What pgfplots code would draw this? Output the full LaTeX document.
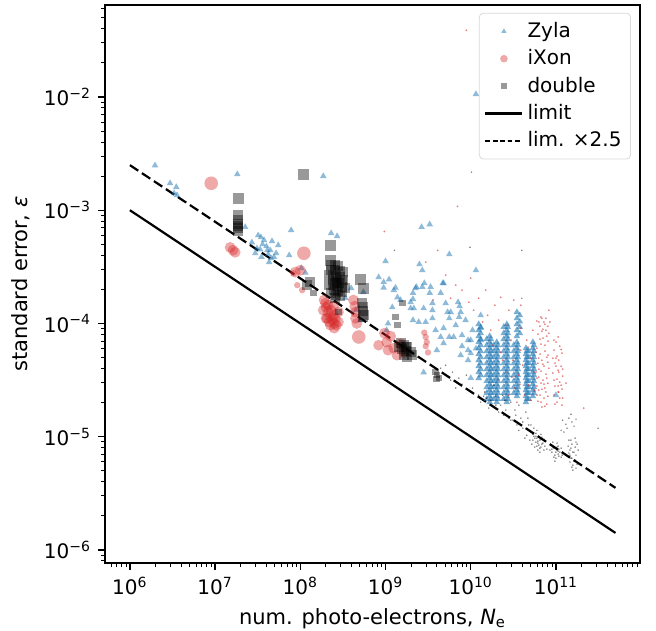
\documentclass[border=0pt]{standalone}
\usepackage{fontspec}
\setmainfont{DejaVu Sans}
\usepackage{pgfplots}
\pgfplotsset{compat=1.18}
\definecolor{zyla}{RGB}{31,119,180}
\definecolor{ixon}{RGB}{214,39,40}
\pgfplotsset{
  zyl/.style={only marks, mark=triangle*, mark size=1.9pt, mark options={draw=zyla, draw opacity=0, fill=zyla, fill opacity=#1}, forget plot},
  zyl/.default=0.5,
  ixo/.style={only marks, mark=*, mark size=#1, mark options={draw=ixon, draw opacity=0, fill=ixon, fill opacity=0.4}, forget plot},
  dbl/.style={only marks, mark=square*, mark size=#1, mark options={draw=black, draw opacity=0, fill=black, fill opacity=0.4}, forget plot},
  rdot/.style={only marks, mark=*, mark size=0.5pt, mark options={draw=ixon, draw opacity=0, fill=ixon, fill opacity=0.6}, forget plot},
  kdot/.style={only marks, mark=*, mark size=0.42pt, mark options={draw=black, draw opacity=0, fill=black, fill opacity=0.55}, forget plot},
}
\begin{document}
\begin{tikzpicture}
\begin{axis}[
  name=ax,
  scale only axis, width=267.5pt, height=279pt,
  xmode=log, ymode=log,
  xmin=5.1e5, xmax=9.7e11, ymin=7.67e-7, ymax=6.49e-2,
  axis line style={line width=0.9pt},
  tick pos=left, tick align=outside,
  major tick length=3.5pt, minor tick length=2pt,
  every tick/.style={black, line width=0.7pt},
  every minor tick/.style={black, line width=0.5pt},
  xtick={1e6,1e7,1e8,1e9,1e10,1e11},
  xticklabels={10\textsuperscript{6},10\textsuperscript{7},10\textsuperscript{8},10\textsuperscript{9},10\textsuperscript{10},10\textsuperscript{11}},
  minor xtick={6e5,7e5,8e5,9e5,2e6,3e6,4e6,5e6,6e6,7e6,8e6,9e6,2e7,3e7,4e7,5e7,6e7,7e7,8e7,9e7,2e8,3e8,4e8,5e8,6e8,7e8,8e8,9e8,2e9,3e9,4e9,5e9,6e9,7e9,8e9,9e9,2e10,3e10,4e10,5e10,6e10,7e10,8e10,9e10,2e11,3e11,4e11,5e11,6e11,7e11,8e11,9e11},
  ytick={1e-6,1e-5,1e-4,1e-3,1e-2},
  yticklabels={10\textsuperscript{−6},10\textsuperscript{−5},10\textsuperscript{−4},10\textsuperscript{−3},10\textsuperscript{−2}},
  minor ytick={8e-7,9e-7,2e-6,3e-6,4e-6,5e-6,6e-6,7e-6,8e-6,9e-6,2e-5,3e-5,4e-5,5e-5,6e-5,7e-5,8e-5,9e-5,2e-4,3e-4,4e-4,5e-4,6e-4,7e-4,8e-4,9e-4,2e-3,3e-3,4e-3,5e-3,6e-3,7e-3,8e-3,9e-3,2e-2,3e-2,4e-2,5e-2,6e-2},
  ticklabel style={font=\fontsize{10}{12}\selectfont},
  xlabel={num. photo-electrons, \textit{N}\textsubscript{e}},
  ylabel={standard error, \textit{ε}},
  label style={font=\fontsize{10.5}{12}\selectfont},
  legend style={at={(0.983,0.986)}, anchor=north east, draw=black!15, rounded corners=2pt, fill=white, fill opacity=0.8, text opacity=1, font=\fontsize{10}{12}\selectfont, inner sep=2.5pt, row sep=0.6pt},
  legend cell align=left,
  legend image code/.code={\draw[mark repeat=2, mark phase=2, #1] plot coordinates {(0cm,0cm) (0.325cm,0cm) (0.65cm,0cm)};},
]
% ---------------- Zyla ----------------
\addplot[zyl] coordinates {
(1.97e6,2.49e-3) (2.96e6,1.73e-3) (3.5e6,1.6e-3) (3.3e6,1.41e-3) (3.57e6,1.36e-3) (1.82e7,2.08e-3) (1.86e8,2.0e-3) (7.8e7,6.66e-4) (2.3e8,6.27e-4) (2.7e8,5.9e-4) (1.15e10,1.06e-2) (1.15e10,2.95e-4)
(2.25e7,7.1e-4) (2.7e7,5.2e-4) (3.45e7,5.77e-4) (3.6e7,5.0e-4) (4.44e7,4.43e-4) (4.65e7,5.33e-4) (4.1e7,4.43e-4) (4.9e7,3.87e-4) (3.5e7,3.87e-4) (3.1e7,4.6e-4) (2.96e7,4.17e-4) (4.0e7,4.8e-4) (4.2e7,4.08e-4) (4.55e7,3.76e-4) (5.2e7,4.17e-4) (3.38e7,4.5e-4) (7.4e7,4.0e-4) (5.5e7,4.91e-4) (3.75e7,5.44e-4) (4.3e7,3.48e-4) (3.2e7,6.0e-4)
(1.15e8,2.8e-4) (1.03e8,3.08e-4) (3.38e8,1.68e-4) (3.95e8,2.05e-4) (5.5e8,1.89e-4) (8.3e8,2.56e-4) (5.08e8,1.07e-4) (4.5e8,1.31e-4) (1.07e9,1.0e-4) (1.03e9,8.73e-5) (1.0e9,3.55e-4) (9.5e8,2.32e-4) (9.5e8,2.07e-4) (1.1e9,2.45e-4) (1.31e9,2.07e-4) (1.25e9,1.97e-4) (1.2e9,1.39e-4) (1.38e9,1.7e-4)
(2.65e9,7.1e-4) (3.3e9,7.5e-4) (5.6e9,4.08e-4) (2.5e9,3.33e-4) (2.7e9,2.95e-4) (2.3e9,2.1e-4) (2.85e9,2.27e-4) (3.38e9,2.1e-4) (4.8e9,2.27e-4) (2.1e9,1.86e-4) (4.44e9,1.86e-4) (5.08e9,1.51e-4) (7.4e9,1.42e-4) (2.25e9,2.05e-4) (3.3e9,1.86e-4) (2.1e9,1.64e-4) (1.97e9,1.36e-4) (2.15e9,1.36e-4) (2.8e9,1.36e-4) (3.55e9,1.51e-4) (3.55e9,1.31e-4) (3.55e9,1.11e-4) (4.7e9,2.27e-4) (5.82e9,1.26e-4) (5.6e9,1.11e-4) (7.62e9,1.26e-4) (7.3e9,1.14e-4) (2.1e9,1.07e-4) (2.45e9,1.03e-4) (2.96e9,1.03e-4) (3.87e9,8.73e-5) (4.8e9,9.1e-5) (4.44e9,7.6e-5) (5.6e9,7.6e-5) (4.8e9,6.7e-5) (6.3e9,7.6e-5) (7.9e9,7.88e-5) (1.05e10,8.73e-5) (1.31e10,1.18e-4) (1.31e10,9.1e-5) (7.9e9,6.3e-5) (1.0e10,7.13e-5) (7.62e9,5.25e-5) (2.8e9,3.7e-5) (1.0e10,5.45e-5) (1.15e10,6.0e-5) (1.31e10,7.13e-5) (1.97e9,1.54e-4) (2.7e9,2.1e-4) (5.35e9,1.26e-4) (7.1e9,1.54e-4) (9.3e9,7.13e-5) (9.3e9,5.81e-5) (9.3e9,4.74e-5) (1.5e9,1.61e-4) (4.0e9,5.81e-5) (6.67e9,9.66e-5) (8.7e9,1.07e-4) (1.0e10,3.3e-5) (1.0e11,2.33e-5)
};
\addplot[zyl=0.6] coordinates {
(1.24e10,9.86e-5) (1.24e10,8.73e-5) (1.24e10,7.73e-5) (1.24e10,6.84e-5) (1.24e10,6.05e-5) (1.24e10,5.36e-5) (1.24e10,4.74e-5) (1.24e10,4.2e-5) (1.24e10,3.72e-5) (1.24e10,3.29e-5)
(1.67e10,7.73e-5) (1.67e10,6.84e-5) (1.67e10,6.05e-5) (1.67e10,5.36e-5) (1.67e10,4.74e-5) (1.67e10,4.2e-5) (1.67e10,3.72e-5) (1.67e10,3.29e-5) (1.67e10,2.91e-5) (1.67e10,2.58e-5) (1.67e10,2.28e-5) (1.67e10,2.02e-5)
(1.54e10,7.27e-5) (1.54e10,6.43e-5) (1.54e10,5.7e-5) (1.54e10,5.04e-5) (1.54e10,4.46e-5) (1.54e10,3.95e-5) (1.54e10,3.5e-5) (1.54e10,3.1e-5) (1.54e10,2.74e-5) (1.54e10,2.43e-5) (1.54e10,2.15e-5)
(2.02e10,6.84e-5) (2.02e10,6.05e-5) (2.02e10,5.36e-5) (2.02e10,4.74e-5) (2.02e10,4.2e-5) (2.02e10,3.72e-5) (2.02e10,3.29e-5) (2.02e10,2.91e-5) (2.02e10,2.58e-5) (2.02e10,2.28e-5) (2.02e10,2.02e-5)
(1.87e10,6.43e-5) (1.87e10,5.7e-5) (1.87e10,5.04e-5) (1.87e10,4.46e-5) (1.87e10,3.95e-5) (1.87e10,3.5e-5) (1.87e10,3.1e-5) (1.87e10,2.74e-5) (1.87e10,2.43e-5) (1.87e10,2.15e-5)
(2.65e10,9.86e-5) (2.65e10,8.73e-5) (2.65e10,7.73e-5) (2.65e10,6.84e-5) (2.65e10,6.05e-5) (2.65e10,5.36e-5) (2.65e10,4.74e-5) (2.65e10,4.2e-5) (2.65e10,3.72e-5) (2.65e10,3.29e-5) (2.65e10,2.91e-5) (2.65e10,2.58e-5) (2.65e10,2.28e-5) (2.65e10,2.02e-5)
(2.44e10,9.3e-5) (2.44e10,8.2e-5) (2.44e10,7.27e-5) (2.44e10,6.43e-5) (2.44e10,5.7e-5) (2.44e10,5.04e-5) (2.44e10,4.46e-5) (2.44e10,3.95e-5) (2.44e10,3.5e-5) (2.44e10,3.1e-5) (2.44e10,2.74e-5) (2.44e10,2.43e-5) (2.44e10,2.15e-5)
(3.48e10,1.26e-4) (3.48e10,1.11e-4) (3.48e10,9.86e-5) (3.48e10,8.73e-5) (3.48e10,7.73e-5) (3.77e10,1.18e-4) (3.77e10,1.04e-4) (3.77e10,9.3e-5) (3.77e10,8.2e-5)
(3.48e10,6.84e-5) (3.48e10,6.05e-5) (3.48e10,5.36e-5) (3.48e10,4.74e-5) (3.48e10,4.2e-5) (3.48e10,3.72e-5) (3.48e10,3.29e-5) (3.48e10,2.91e-5) (3.48e10,2.58e-5) (3.48e10,2.28e-5)
(3.2e10,6.43e-5) (3.2e10,5.7e-5) (3.2e10,5.04e-5) (3.2e10,4.46e-5) (3.2e10,3.95e-5) (3.2e10,3.5e-5) (3.2e10,3.1e-5) (3.2e10,2.74e-5) (3.2e10,2.43e-5)
(4.44e10,6.05e-5) (4.44e10,5.36e-5) (4.44e10,4.74e-5) (4.44e10,4.2e-5) (4.44e10,3.72e-5) (4.44e10,3.29e-5) (4.44e10,2.91e-5) (4.44e10,2.58e-5) (4.44e10,2.28e-5) (4.44e10,2.02e-5)
(4.8e10,5.7e-5) (4.8e10,5.04e-5) (4.8e10,4.46e-5) (4.8e10,3.95e-5) (4.8e10,3.5e-5) (4.8e10,3.1e-5) (4.8e10,2.74e-5) (4.8e10,2.43e-5) (4.8e10,2.15e-5)
(5.36e10,6.84e-5) (5.36e10,6.05e-5) (5.36e10,5.36e-5) (5.36e10,4.74e-5) (5.36e10,4.2e-5) (5.36e10,3.72e-5) (5.36e10,3.29e-5) (5.36e10,2.91e-5) (5.36e10,2.58e-5) (5.36e10,2.28e-5)
};
\addplot[zyl=0.6] coordinates {
(1.31e10,9.3e-5) (1.31e10,8.2e-5) (1.31e10,7.27e-5) (1.31e10,6.43e-5) (1.31e10,5.7e-5) (1.31e10,5.04e-5) (1.31e10,4.46e-5) (1.31e10,3.95e-5) (1.31e10,3.5e-5)
(1.72e10,7.27e-5) (1.72e10,6.43e-5) (1.72e10,5.7e-5) (1.72e10,5.04e-5) (1.72e10,4.46e-5) (1.72e10,3.95e-5) (1.72e10,3.5e-5) (1.72e10,3.1e-5) (1.72e10,2.74e-5) (1.72e10,2.43e-5) (1.72e10,2.15e-5)
(2.08e10,6.43e-5) (2.08e10,5.7e-5) (2.08e10,5.04e-5) (2.08e10,4.46e-5) (2.08e10,3.95e-5) (2.08e10,3.5e-5) (2.08e10,3.1e-5) (2.08e10,2.74e-5) (2.08e10,2.43e-5) (2.08e10,2.15e-5)
(2.72e10,9.3e-5) (2.72e10,8.2e-5) (2.72e10,7.27e-5) (2.72e10,6.43e-5) (2.72e10,5.7e-5) (2.72e10,5.04e-5) (2.72e10,4.46e-5) (2.72e10,3.95e-5) (2.72e10,3.5e-5) (2.72e10,3.1e-5) (2.72e10,2.74e-5) (2.72e10,2.43e-5) (2.72e10,2.15e-5)
(3.57e10,6.43e-5) (3.57e10,5.7e-5) (3.57e10,5.04e-5) (3.57e10,4.46e-5) (3.57e10,3.95e-5) (3.57e10,3.5e-5) (3.57e10,3.1e-5) (3.57e10,2.74e-5) (3.57e10,2.43e-5)
(4.55e10,5.7e-5) (4.55e10,5.04e-5) (4.55e10,4.46e-5) (4.55e10,3.95e-5) (4.55e10,3.5e-5) (4.55e10,3.1e-5) (4.55e10,2.74e-5) (4.55e10,2.43e-5) (4.55e10,2.15e-5)
(5.51e10,6.43e-5) (5.51e10,5.7e-5) (5.51e10,5.04e-5) (5.51e10,4.46e-5) (5.51e10,3.95e-5) (5.51e10,3.5e-5) (5.51e10,3.1e-5) (5.51e10,2.74e-5) (5.51e10,2.43e-5)
};
% ---------------- iXon ----------------
\addplot[ixo=3.4pt] coordinates {(9.0e6,1.73e-3) (1.1e8,4.17e-4) (4.85e8,7.6e-5)};
\addplot[ixo=2.7pt] coordinates {
(1.5e7,4.7e-4) (1.62e7,4.43e-4) (1.72e7,4.25e-4) (1.0e8,2.95e-4) (8.7e7,2.84e-4)
(2.0e8,1.39e-4) (2.12e8,1.26e-4) (2.25e8,1.16e-4) (2.38e8,1.07e-4) (2.5e8,1.0e-4) (2.65e8,9.66e-5) (2.06e8,1.11e-4) (2.18e8,1.03e-4) (2.3e8,1.31e-4) (2.45e8,1.18e-4) (2.58e8,1.11e-4) (1.97e8,1.51e-4) (2.12e8,1.45e-4)
(1.86e8,1.31e-4) (2.0e8,1.11e-4) (2.25e8,9.66e-5) (2.5e8,9.09e-5) (2.8e8,1.03e-4) (2.45e8,1.42e-4) (2.8e8,1.26e-4) (1.9e8,1.61e-4)
(4.2e8,1.61e-4) (4.35e8,1.42e-4) (4.44e8,1.26e-4) (4.44e8,1.11e-4) (4.6e8,1.0e-4)
(9.7e8,8.2e-5) (1.03e9,6.84e-5) (1.07e9,5.81e-5) (1.25e9,6.05e-5) (1.5e9,6.6e-5) (1.36e9,5.25e-5) (1.15e9,7.73e-5) (1.64e9,5.55e-5) (8.3e8,6.43e-5)
};
\addplot[ixo=1.6pt] coordinates {
(9.2e7,2.18e-4) (1.05e8,1.97e-4) (8.3e7,2.78e-4)
(2.96e9,7.6e-5) (3.05e9,6.84e-5) (2.96e9,6.3e-5) (3.15e9,5.55e-5) (2.85e9,8.3e-5)
};
\addplot[rdot] coordinates {
(6.84e10,1.11e-4) (7.23e10,1.03e-4) (6.49e10,9.46e-5) (7.62e10,8.73e-5) (6.14e10,8.05e-5) (7.03e10,7.42e-5) (8.05e10,6.98e-5) (6.67e10,6.57e-5) (5.98e10,6.05e-5) (7.42e10,5.7e-5) (6.49e10,5.36e-5) (7.82e10,5.04e-5) (6.84e10,4.74e-5) (6.14e10,4.46e-5) (7.23e10,4.2e-5) (8.27e10,4.03e-5) (6.67e10,3.79e-5) (7.62e10,3.57e-5) (6.3e10,3.36e-5) (7.03e10,3.16e-5) (8.05e10,2.97e-5) (5.98e10,2.8e-5) (6.84e10,2.63e-5) (7.62e10,2.48e-5) (6.49e10,2.33e-5) (7.23e10,2.19e-5) (6.14e10,2.06e-5) (7.82e10,1.94e-5) (6.84e10,1.83e-5) (7.42e10,6.43e-5) (6.3e10,4.94e-5) (8.05e10,4.55e-5) (5.82e10,3.72e-5) (6.67e10,2.97e-5) (7.42e10,2.69e-5) (5.98e10,2.33e-5) (7.03e10,8.9e-5) (7.82e10,7.73e-5) (6.67e10,1.14e-4) (6.3e10,1.03e-4)
(5.98e10,1.05e-4) (7.42e10,9.86e-5) (8.27e10,8.2e-5) (6.49e10,7.27e-5) (5.82e10,5.58e-5) (8.05e10,5.25e-5) (7.03e10,4.37e-5) (6.3e10,3.95e-5) (7.82e10,3.29e-5) (7.23e10,2.91e-5) (6.3e10,2.58e-5) (8.05e10,2.28e-5) (6.67e10,2.02e-5) (7.42e10,1.86e-5) (5.98e10,3.29e-5) (7.62e10,1.11e-4) (8.5e10,1.03e-4) (8.05e10,9.46e-5) (6.84e10,8.55e-5)
(1.06e11,7.58e-5) (1.0e11,6.84e-5) (1.11e11,6.31e-5) (9.47e10,5.81e-5) (1.18e11,5.47e-5) (1.03e11,5.15e-5) (1.08e11,4.74e-5) (9.73e10,4.46e-5) (1.15e11,4.2e-5) (1.06e11,3.87e-5) (9.2e10,3.65e-5) (1.2e11,3.43e-5) (1.03e11,3.23e-5) (1.11e11,3.03e-5) (9.73e10,2.8e-5) (1.18e11,2.63e-5) (1.06e11,2.48e-5) (9.47e10,2.33e-5) (1.11e11,2.19e-5) (1.03e11,2.02e-5) (1.18e11,1.9e-5) (1.0e11,4.94e-5) (1.08e11,3.72e-5) (1.15e11,2.85e-5)
(9.47e10,7.13e-5) (1.15e11,5.9e-5) (1.0e11,4.2e-5) (1.2e11,3.95e-5) (9.47e10,3.16e-5) (1.08e11,2.48e-5) (1.2e11,2.19e-5) (9.73e10,1.94e-5) (1.06e11,2.8e-5) (9.2e10,4.94e-5)
(1.82e10,6.43e-5) (2.25e10,5.58e-5) (2.96e10,7.13e-5) (3.12e10,4.74e-5) (3.87e10,5.81e-5) (4.08e10,4.28e-5) (3.67e10,3.5e-5) (4.55e10,7.13e-5) (5.08e10,4.94e-5) (5.51e10,3.72e-5) (4.8e10,2.85e-5) (3.3e10,2.69e-5) (2.58e10,3.72e-5) (2.08e10,3.16e-5) (4.32e10,2.33e-5) (5.36e10,8.73e-5) (3.87e10,9.09e-5) (2.8e10,2.33e-5) (3.48e10,2.02e-5) (5.08e10,2.1e-5) (2.37e10,4.74e-5) (4.69e10,6.18e-5) (3.77e10,2.91e-5) (3.04e10,3.36e-5) (5.65e10,2.58e-5)
(8.9e9,3.88e-2) (7.0e9,1.08e-3) (9.7e8,6.5e-4) (2.96e9,3.48e-4) (4.1e9,4.43e-4) (6.67e9,2.18e-4) (7.9e9,1.97e-4) (1.0e10,2.51e-4) (1.24e10,1.67e-4) (1.5e10,1.97e-4) (1.92e10,1.45e-4) (2.25e10,1.7e-4) (2.8e10,1.31e-4) (3.2e10,1.61e-4) (1.58e10,1.18e-4) (1.08e10,1.31e-4) (2.13e10,1.07e-4) (9.5e9,1.54e-4) (5.82e9,1.67e-4) (3.87e10,1.45e-4) (2.58e10,9.66e-5) (1.38e10,1.03e-4) (5.08e9,2.67e-4) (1.31e11,2.97e-5) (2.12e11,1.79e-5) (8.27e10,1.31e-4) (3.62e9,1.61e-4) (1.72e10,8.73e-5)
};
% ---------------- double ----------------
\addplot[dbl=2.75pt] coordinates {(1.1e8,2.08e-3) (1.87e7,1.28e-3) (2.25e8,4.91e-4) (2.25e8,3.62e-4) (5.08e8,2.45e-4) (5.5e8,2.05e-4)};
\addplot[dbl=2.5pt] coordinates {
(1.87e7,9.0e-4) (1.87e7,8.16e-4) (1.87e7,7.5e-4) (1.87e7,7.2e-4) (1.87e7,6.95e-4) (1.87e7,6.5e-4)
(2.3e8,3.27e-4) (2.58e8,3.27e-4) (2.3e8,2.95e-4) (2.58e8,2.95e-4) (2.9e8,2.9e-4) (2.4e8,2.67e-4) (2.65e8,2.62e-4) (2.96e8,2.56e-4) (2.45e8,2.41e-4) (2.7e8,2.37e-4) (3.05e8,2.32e-4) (2.45e8,2.18e-4) (2.7e8,2.14e-4) (3.05e8,2.1e-4) (2.5e8,1.97e-4) (2.8e8,1.93e-4) (3.1e8,1.89e-4) (2.65e8,1.78e-4) (2.96e8,1.74e-4)
(2.18e8,2.67e-4) (2.18e8,2.18e-4) (3.2e8,2.41e-4) (3.3e8,2.05e-4) (3.2e8,2.84e-4) (2.8e8,3.2e-4) (2.3e8,1.85e-4) (2.58e8,1.68e-4) (2.85e8,2.27e-4) (2.58e8,2.27e-4)
(5.3e8,1.51e-4) (5.5e8,1.39e-4) (5.4e8,1.28e-4) (5.65e8,1.2e-4) (5.4e8,1.14e-4) (1.31e8,2.32e-4) (1.2e8,2.18e-4)
(1.5e9,6.7e-5) (1.64e9,6.43e-5) (1.8e9,6.2e-5) (1.58e9,5.9e-5) (1.73e9,5.7e-5) (1.97e9,5.55e-5) (1.64e9,5.25e-5) (1.8e9,5.04e-5) (2.05e9,5.25e-5) (1.45e9,6.2e-5) (1.73e9,6.2e-5)
};
\addplot[dbl=1.6pt] coordinates {
(1.43e8,1.85e-4) (2.8e8,1.26e-4) (1.58e9,1.51e-4) (1.31e9,1.14e-4) (1.38e9,9.66e-5) (3.87e9,3.72e-5) (4.05e9,3.5e-5) (4.25e9,3.29e-5) (3.95e9,3.23e-5)
};
\addplot[kdot] coordinates {
(5.08e10,1.1e-5) (5.51e10,1.01e-5) (5.98e10,9.72e-6) (6.49e10,9.33e-6) (7.03e10,8.78e-6) (5.82e10,8.96e-6) (6.3e10,8.43e-6) (6.84e10,9.9e-6) (5.65e10,8.1e-6) (6.14e10,7.62e-6) (6.67e10,1.05e-5) (5.36e10,9.33e-6) (7.42e10,8.26e-6) (5.98e10,1.14e-5) (6.49e10,7.31e-6) (5.22e10,8.6e-6) (7.23e10,9.5e-6) (6.14e10,9.15e-6) (6.67e10,8.1e-6) (5.82e10,1.01e-5) (5.51e10,1.19e-5) (7.82e10,7.77e-6)
(5.65e10,9.72e-6) (6.3e10,1.01e-5) (6.84e10,8.6e-6) (5.98e10,8.26e-6) (6.49e10,7.93e-6) (7.23e10,7.62e-6) (5.36e10,1.05e-5) (7.62e10,9.15e-6) (4.94e10,9.33e-6) (6.14e10,8.78e-6) (6.67e10,9.5e-6) (5.82e10,1.07e-5)
(8.73e10,8.43e-6) (9.47e10,7.93e-6) (1.03e11,7.62e-6) (1.11e11,7.31e-6) (9.73e10,6.88e-6) (1.06e11,8.26e-6) (8.97e10,7.31e-6) (1.15e11,7.93e-6) (1.0e11,6.47e-6) (9.2e10,8.96e-6) (1.08e11,6.74e-6) (1.03e11,8.78e-6) (1.18e11,6.88e-6) (8.5e10,7.62e-6) (9.73e10,6.09e-6) (1.06e11,7.46e-6)
(9.2e10,8.1e-6) (1.0e11,7.31e-6) (1.08e11,7.77e-6) (9.47e10,6.6e-6) (1.06e11,7.02e-6) (8.97e10,7.77e-6) (1.15e11,6.6e-6) (1.03e11,8.1e-6)
(1.42e11,9.33e-6) (1.54e11,8.6e-6) (1.68e11,8.1e-6) (1.46e11,7.62e-6) (1.58e11,7.31e-6) (1.72e11,6.88e-6) (1.5e11,6.47e-6) (1.63e11,6.09e-6) (1.77e11,5.73e-6) (1.54e11,5.39e-6) (1.39e11,8.26e-6) (1.68e11,9.72e-6) (1.82e11,7.62e-6) (1.58e11,5.07e-6) (1.46e11,6.88e-6) (1.72e11,8.96e-6)
(1.5e11,7.93e-6) (1.63e11,7.31e-6) (1.54e11,6.47e-6) (1.68e11,6.21e-6) (1.46e11,5.97e-6) (1.58e11,5.61e-6) (1.72e11,5.28e-6) (1.42e11,7.17e-6) (1.77e11,8.6e-6) (1.5e11,9.33e-6)
(1.2e11,1.4e-5) (1.31e11,1.29e-5) (1.42e11,1.46e-5) (1.54e11,1.35e-5) (1.35e11,1.19e-5) (1.5e11,1.58e-5) (1.63e11,1.24e-5) (1.15e11,1.14e-5) (1.72e11,1.43e-5) (1.24e11,1.1e-5)
(1.05e10,2.69e-5) (1.24e10,2.33e-5) (1.46e10,2.48e-5) (1.72e10,2.1e-5) (1.97e10,2.28e-5) (2.25e10,1.9e-5) (2.58e10,1.72e-5) (2.96e10,2.02e-5) (3.38e10,1.55e-5) (3.87e10,1.46e-5) (4.44e10,1.65e-5) (4.8e10,1.27e-5) (3.12e10,1.4e-5) (2.13e10,1.65e-5) (1.63e10,1.79e-5) (1.31e10,2.02e-5) (2.37e10,2.33e-5) (3.67e10,1.9e-5) (4.08e10,1.19e-5) (2.8e10,1.46e-5) (1.87e10,2.85e-5) (4.55e10,1.03e-5) (3.48e10,1.27e-5) (2.51e10,2.1e-5) (1.54e10,2.19e-5)
(2.96e10,1.4e-5) (4.08e10,1.35e-5) (3.67e10,1.14e-5) (4.69e10,1.46e-5) (2.44e10,1.55e-5) (1.97e10,1.9e-5) (1.42e10,2.28e-5) (5.08e10,1.27e-5) (4.32e10,9.72e-6) (3.3e10,1.72e-5)
(5.08e9,4.28e-5) (6.1e9,3.72e-5) (7.25e9,3.29e-5) (7.9e9,2.91e-5) (5.82e9,3.16e-5) (8.9e9,3.5e-5) (4.44e9,4.03e-5) (6.67e9,2.69e-5)
(1.02e10,2.17e-3) (9.8e9,4.71e-4) (1.27e9,4.43e-4) (3.98e10,4.43e-4) (3.98e10,1.67e-4) (3.12e11,1.19e-5)
};
% ---------------- limits ----------------
\addplot[black, line width=1.1pt, forget plot] coordinates {(1e6,1e-3) (5e11,1.414e-6)};
\addplot[black, line width=1.1pt, dash pattern=on 5pt off 2.2pt, forget plot] coordinates {(1e6,2.5e-3) (5e11,3.536e-6)};
% ---------------- legend ----------------
\addlegendimage{only marks, mark=triangle*, mark size=1.5pt, mark options={draw=zyla, draw opacity=0, fill=zyla, fill opacity=0.5}}
\addlegendentry{Zyla}
\addlegendimage{only marks, mark=*, mark size=1.9pt, mark options={draw=ixon, draw opacity=0, fill=ixon, fill opacity=0.4}}
\addlegendentry{iXon}
\addlegendimage{only marks, mark=square*, mark size=1.6pt, mark options={draw=black, draw opacity=0, fill=black, fill opacity=0.4}}
\addlegendentry{double}
\addlegendimage{black, line width=1.1pt}
\addlegendentry{limit}
\addlegendimage{black, line width=1.1pt, dash pattern=on 2.4pt off 1.3pt}
\addlegendentry{lim. ×2.5}
\end{axis}
\pgfresetboundingbox
\path ([shift={(-52.5pt,-33.5pt)}]ax.south west) rectangle ([shift={(8pt,2.5pt)}]ax.north east);
\end{tikzpicture}
\end{document}
